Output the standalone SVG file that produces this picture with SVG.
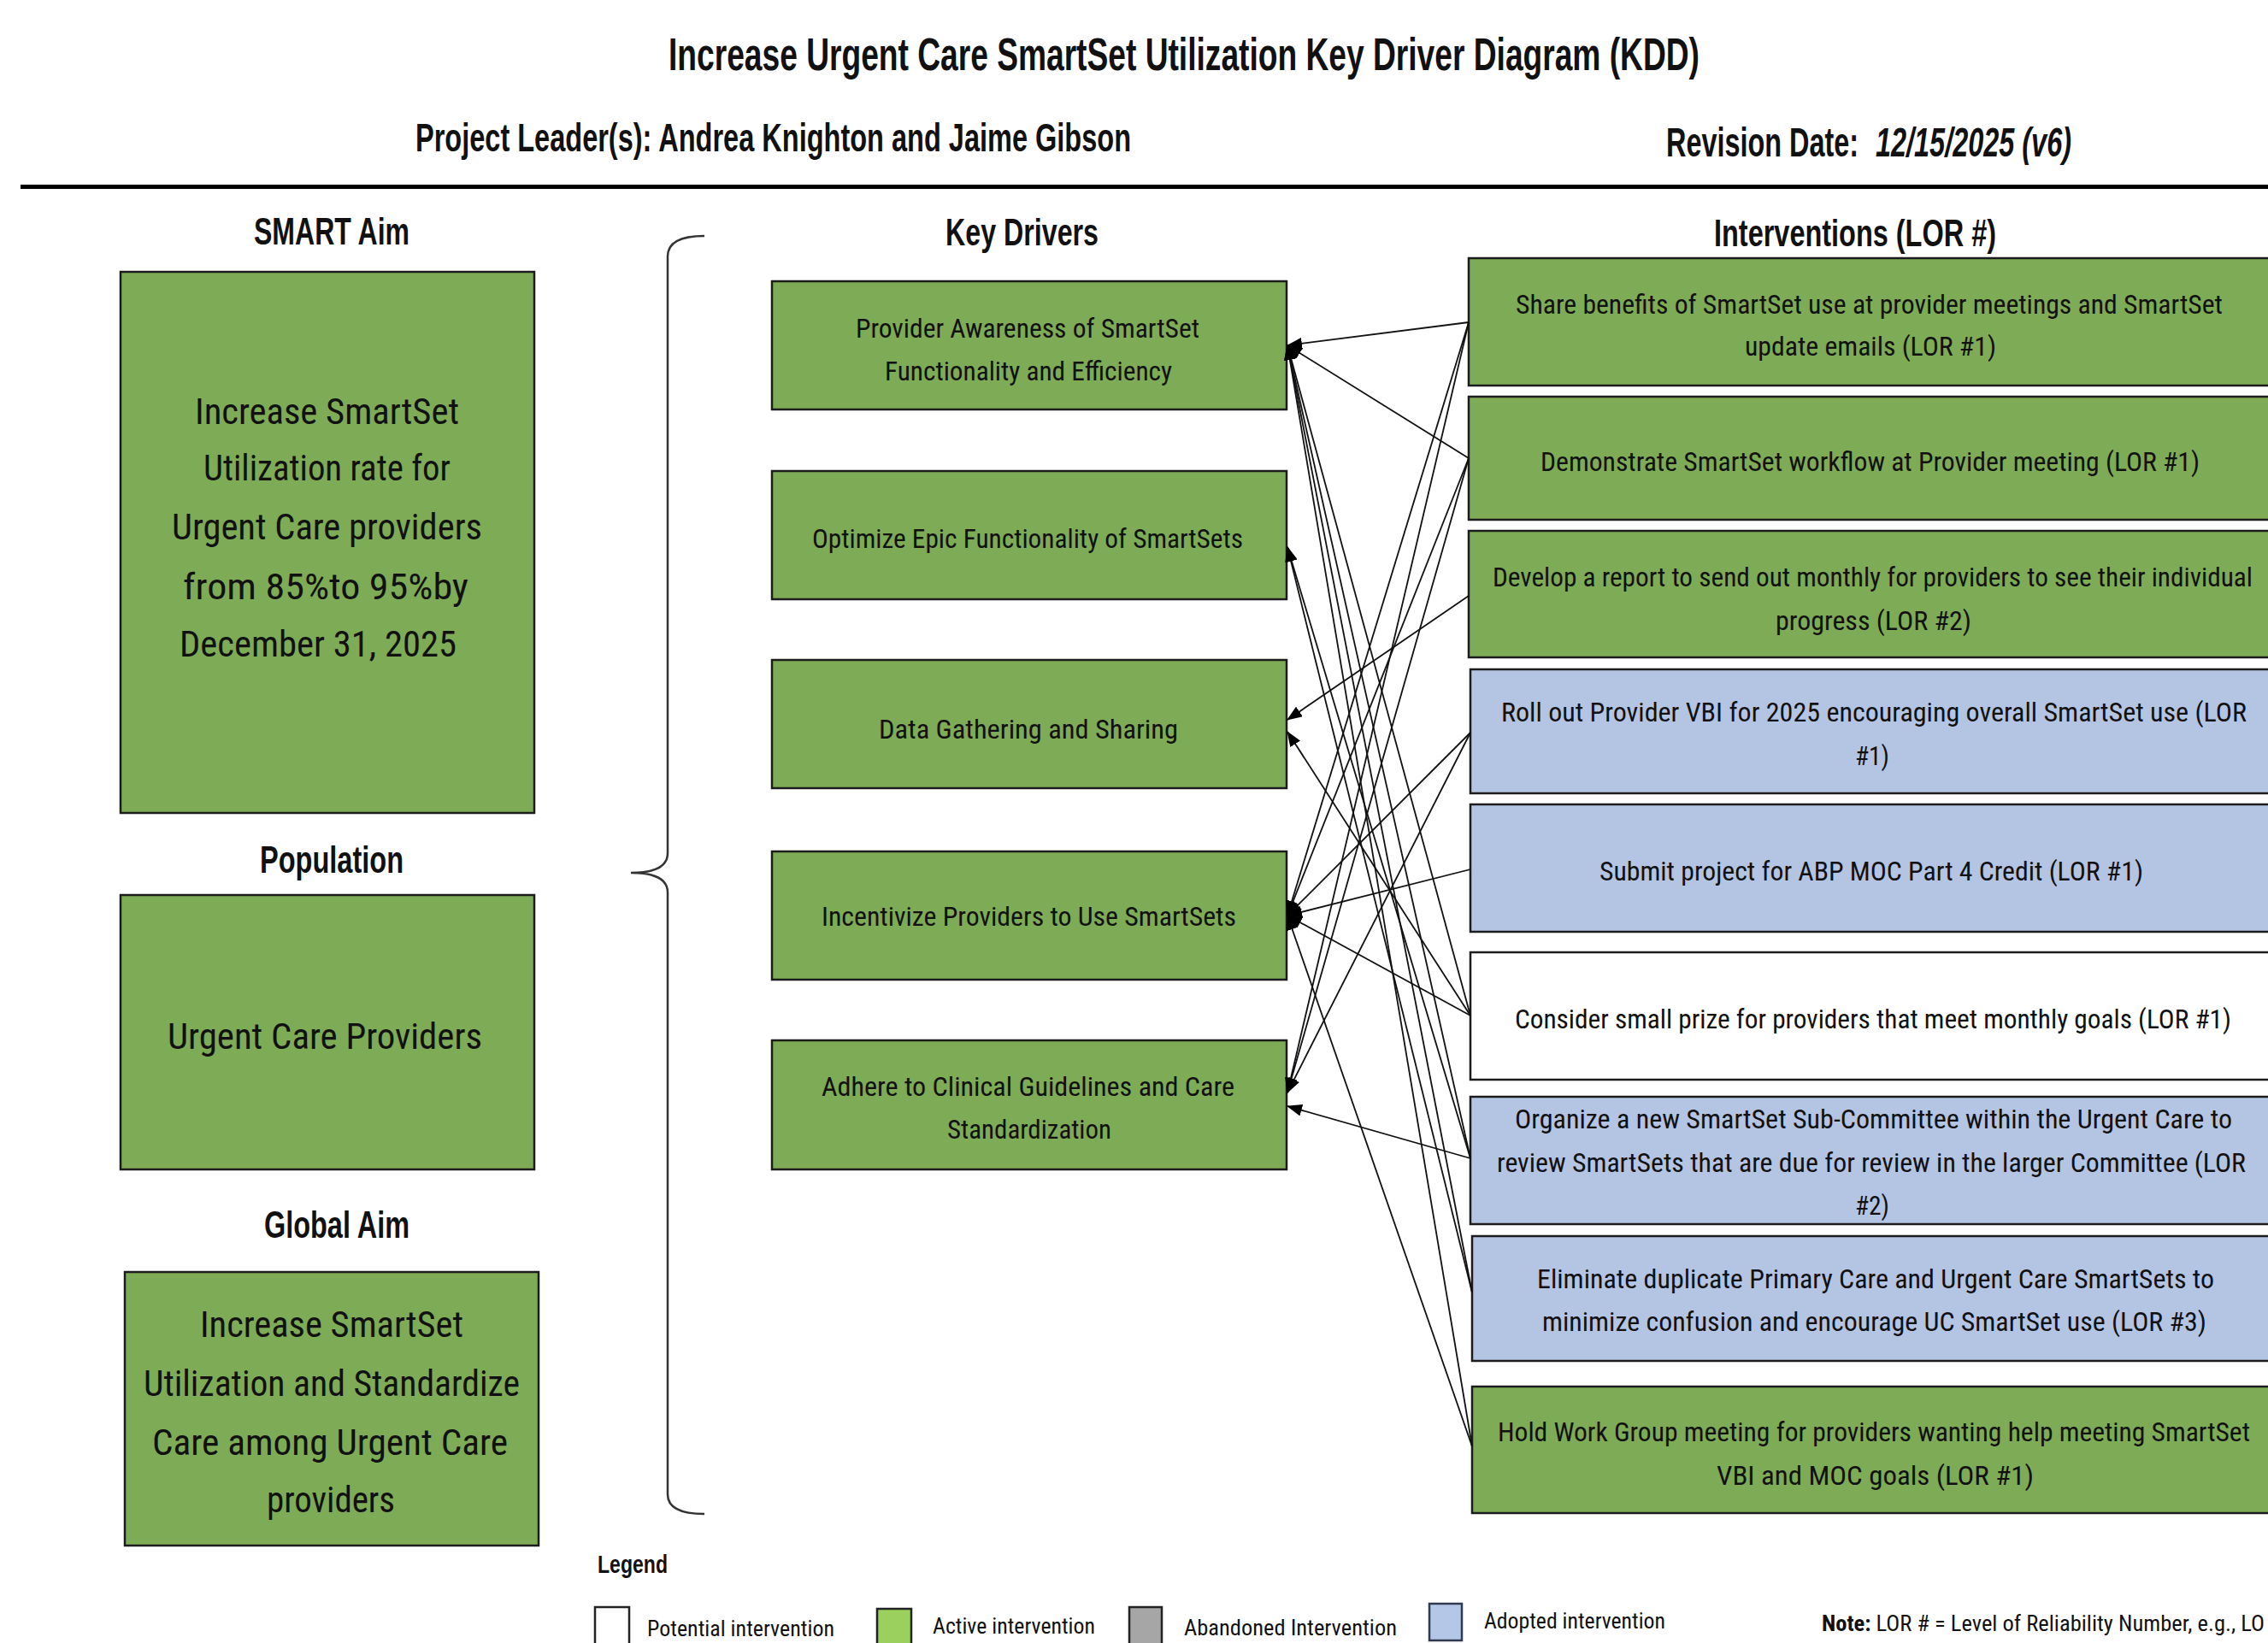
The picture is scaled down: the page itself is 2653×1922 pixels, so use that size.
<svg xmlns="http://www.w3.org/2000/svg" width="2653" height="1922" viewBox="0 0 2653 1922">
<defs>
<style>
text{font-family:"Roboto Condensed","Liberation Sans",Arial,sans-serif;fill:#111;}
.hd{font-family:"Liberation Sans",Arial,sans-serif;font-weight:bold;}
.title{font-size:54px;}
.sub{font-size:46px;}
.sec{font-size:44px;}
.aim{font-size:42px;}
.kd{font-size:32px;}
.iv{font-size:31px;}
.lg{font-size:26px;}
.green{fill:#7EAB55;stroke:#1c1c1c;stroke-width:2.5;}
.blue{fill:#B4C4E3;stroke:#1c1c1c;stroke-width:2.5;}
.white{fill:#FFFFFF;stroke:#1c1c1c;stroke-width:2.5;}
.conn line{stroke:#111;stroke-width:1.8;marker-end:url(#arr);}
</style>
<marker id="arr" markerUnits="userSpaceOnUse" markerWidth="18" markerHeight="14" refX="17" refY="7" orient="auto">
<path d="M0,0 L18,7 L0,14 z" fill="#000"/>
</marker>
</defs>
<rect x="0" y="0" width="2653" height="1922" fill="#FFFFFF"/>

<g id="header">
<text class="hd title" x="782" y="82" textLength="1206" lengthAdjust="spacingAndGlyphs">Increase Urgent Care SmartSet Utilization Key Driver Diagram (KDD)</text>
<text class="hd sub" x="486" y="177" textLength="837" lengthAdjust="spacingAndGlyphs">Project Leader(s): Andrea Knighton and Jaime Gibson</text>
<text class="hd" x="1949" y="183" font-size="34" transform="matrix(1 0 0 1.4 0 -73.2)" textLength="225" lengthAdjust="spacingAndGlyphs">Revision Date:</text>
<text class="hd" x="2194" y="183" font-size="34" font-style="italic" transform="matrix(1 0 0 1.4 0 -73.2)" textLength="229" lengthAdjust="spacingAndGlyphs">12/15/2025 (v6)</text>
<line x1="24" y1="218.5" x2="2653" y2="218.5" stroke="#000" stroke-width="5"/>
</g>

<g id="section-headers">
<text class="hd sec" x="297" y="286" textLength="182" lengthAdjust="spacingAndGlyphs">SMART Aim</text>
<text class="hd sec" x="1106" y="287" textLength="179" lengthAdjust="spacingAndGlyphs">Key Drivers</text>
<text class="hd sec" x="2005" y="288" textLength="330" lengthAdjust="spacingAndGlyphs">Interventions (LOR #)</text>
<text class="hd sec" x="304" y="1021" textLength="168" lengthAdjust="spacingAndGlyphs">Population</text>
<text class="hd sec" x="309" y="1448" textLength="170" lengthAdjust="spacingAndGlyphs">Global Aim</text>
</g>

<g id="smart-aim">
<rect class="green" x="141" y="318" width="484" height="633"/>
<text class="aim" x="228" y="496" textLength="309" lengthAdjust="spacingAndGlyphs">Increase SmartSet</text>
<text class="aim" x="238" y="562" textLength="289" lengthAdjust="spacingAndGlyphs">Utilization rate for</text>
<text class="aim" x="201" y="631" textLength="363" lengthAdjust="spacingAndGlyphs">Urgent Care providers</text>
<text class="aim" x="214" y="701" textLength="334" lengthAdjust="spacingAndGlyphs">from 85%to 95%by</text>
<text class="aim" x="210" y="768" textLength="324" lengthAdjust="spacingAndGlyphs">December 31, 2025</text>
</g>

<g id="population">
<rect class="green" x="141" y="1047" width="484" height="321"/>
<text class="aim" x="196" y="1227" textLength="368" lengthAdjust="spacingAndGlyphs">Urgent Care Providers</text>
</g>

<g id="global-aim">
<rect class="green" x="146" y="1488" width="484" height="320"/>
<text class="aim" x="234" y="1564" textLength="308" lengthAdjust="spacingAndGlyphs">Increase SmartSet</text>
<text class="aim" x="168" y="1633" textLength="440" lengthAdjust="spacingAndGlyphs">Utilization and Standardize</text>
<text class="aim" x="178" y="1702" textLength="416" lengthAdjust="spacingAndGlyphs">Care among Urgent Care</text>
<text class="aim" x="312" y="1769" textLength="150" lengthAdjust="spacingAndGlyphs">providers</text>
</g>

<g id="brace">
<path d="M824,276 Q781,276 781,300 L781,998 Q781,1021 738,1021 Q781,1021 781,1044 L781,1748 Q781,1771 824,1771" fill="none" stroke="#333" stroke-width="2.5"/>
</g>

<g id="kd1">
<rect class="green" x="903" y="329" width="602" height="150"/>
<text class="kd" x="1001" y="395" textLength="402" lengthAdjust="spacingAndGlyphs">Provider Awareness of SmartSet</text>
<text class="kd" x="1035" y="445" textLength="336" lengthAdjust="spacingAndGlyphs">Functionality and Efficiency</text>
</g>
<g id="kd2">
<rect class="green" x="903" y="551" width="602" height="150"/>
<text class="kd" x="950" y="641" textLength="504" lengthAdjust="spacingAndGlyphs">Optimize Epic Functionality of SmartSets</text>
</g>
<g id="kd3">
<rect class="green" x="903" y="772" width="602" height="150"/>
<text class="kd" x="1028" y="864" textLength="350" lengthAdjust="spacingAndGlyphs">Data Gathering and Sharing</text>
</g>
<g id="kd4">
<rect class="green" x="903" y="996" width="602" height="150"/>
<text class="kd" x="961" y="1083" textLength="485" lengthAdjust="spacingAndGlyphs">Incentivize Providers to Use SmartSets</text>
</g>
<g id="kd5">
<rect class="green" x="903" y="1217" width="602" height="151"/>
<text class="kd" x="961" y="1282" textLength="483" lengthAdjust="spacingAndGlyphs">Adhere to Clinical Guidelines and Care</text>
<text class="kd" x="1108" y="1332" textLength="192" lengthAdjust="spacingAndGlyphs">Standardization</text>
</g>

<g id="int1">
<rect class="green" x="1718" y="302" width="937" height="149"/>
<text class="iv" x="1773" y="367" textLength="827" lengthAdjust="spacingAndGlyphs">Share benefits of SmartSet use at provider meetings and SmartSet</text>
<text class="iv" x="2041" y="416" textLength="294" lengthAdjust="spacingAndGlyphs">update emails (LOR #1)</text>
</g>
<g id="int2">
<rect class="green" x="1718" y="464" width="937" height="144"/>
<text class="iv" x="1802" y="551" textLength="771" lengthAdjust="spacingAndGlyphs">Demonstrate SmartSet workflow at Provider meeting (LOR #1)</text>
</g>
<g id="int3">
<rect class="green" x="1718" y="621" width="937" height="148"/>
<text class="iv" x="1746" y="686" textLength="889" lengthAdjust="spacingAndGlyphs">Develop a report to send out monthly for providers to see their individual</text>
<text class="iv" x="2077" y="737" textLength="229" lengthAdjust="spacingAndGlyphs">progress (LOR #2)</text>
</g>
<g id="int4">
<rect class="blue" x="1720" y="783" width="935" height="145"/>
<text class="iv" x="1756" y="844" textLength="872" lengthAdjust="spacingAndGlyphs">Roll out Provider VBI for 2025 encouraging overall SmartSet use (LOR</text>
<text class="iv" x="2170" y="895" textLength="40" lengthAdjust="spacingAndGlyphs">#1)</text>
</g>
<g id="int5">
<rect class="blue" x="1720" y="941" width="935" height="149"/>
<text class="iv" x="1871" y="1030" textLength="636" lengthAdjust="spacingAndGlyphs">Submit project for ABP MOC Part 4 Credit (LOR #1)</text>
</g>
<g id="int6">
<rect class="white" x="1720" y="1114" width="935" height="149"/>
<text class="iv" x="1772" y="1203" textLength="838" lengthAdjust="spacingAndGlyphs">Consider small prize for providers that meet monthly goals (LOR #1)</text>
</g>
<g id="int7">
<rect class="blue" x="1720" y="1283" width="935" height="149"/>
<text class="iv" x="1772" y="1320" textLength="839" lengthAdjust="spacingAndGlyphs">Organize a new SmartSet Sub-Committee within the Urgent Care to</text>
<text class="iv" x="1751" y="1371" textLength="876" lengthAdjust="spacingAndGlyphs">review SmartSets that are due for review in the larger Committee (LOR</text>
<text class="iv" x="2170" y="1421" textLength="40" lengthAdjust="spacingAndGlyphs">#2)</text>
</g>
<g id="int8">
<rect class="blue" x="1722" y="1446" width="933" height="146"/>
<text class="iv" x="1798" y="1507" textLength="792" lengthAdjust="spacingAndGlyphs">Eliminate duplicate Primary Care and Urgent Care SmartSets to</text>
<text class="iv" x="1804" y="1557" textLength="777" lengthAdjust="spacingAndGlyphs">minimize confusion and encourage UC SmartSet use (LOR #3)</text>
</g>
<g id="int9">
<rect class="green" x="1722" y="1622" width="933" height="148"/>
<text class="iv" x="1752" y="1686" textLength="880" lengthAdjust="spacingAndGlyphs">Hold Work Group meeting for providers wanting help meeting SmartSet</text>
<text class="iv" x="2008" y="1737" textLength="371" lengthAdjust="spacingAndGlyphs">VBI and MOC goals (LOR #1)</text>
</g>

<g id="connectors" class="conn">
<line x1="1718" y1="377" x2="1506" y2="404"/>
<line x1="1718" y1="536" x2="1506" y2="404"/>
<line x1="1720" y1="1188" x2="1506" y2="404"/>
<line x1="1720" y1="1355" x2="1506" y2="404"/>
<line x1="1722" y1="1512" x2="1506" y2="404"/>
<line x1="1722" y1="1692" x2="1506" y2="404"/>
<line x1="1720" y1="1355" x2="1506" y2="640"/>
<line x1="1722" y1="1512" x2="1506" y2="640"/>
<line x1="1718" y1="697" x2="1506" y2="842"/>
<line x1="1720" y1="1188" x2="1506" y2="856"/>
<line x1="1718" y1="377" x2="1506" y2="1071"/>
<line x1="1718" y1="536" x2="1506" y2="1071"/>
<line x1="1720" y1="857" x2="1506" y2="1071"/>
<line x1="1720" y1="1017" x2="1506" y2="1071"/>
<line x1="1720" y1="1188" x2="1506" y2="1071"/>
<line x1="1722" y1="1692" x2="1506" y2="1071"/>
<line x1="1718" y1="377" x2="1506" y2="1278"/>
<line x1="1718" y1="536" x2="1506" y2="1278"/>
<line x1="1720" y1="857" x2="1506" y2="1278"/>
<line x1="1720" y1="1355" x2="1506" y2="1294"/>
</g>

<g id="legend">
<text class="hd" x="699" y="1840" font-size="30" textLength="82" lengthAdjust="spacingAndGlyphs">Legend</text>
<rect x="696" y="1880" width="40" height="50" fill="#FFFFFF" stroke="#222" stroke-width="2.5"/>
<text class="lg" x="757" y="1914" textLength="219" lengthAdjust="spacingAndGlyphs">Potential intervention</text>
<rect x="1026" y="1882" width="40" height="50" fill="#9BCF5E" stroke="#222" stroke-width="2.5"/>
<text class="lg" x="1091" y="1911" textLength="190" lengthAdjust="spacingAndGlyphs">Active intervention</text>
<rect x="1321" y="1880" width="38" height="50" fill="#A6A6A6" stroke="#222" stroke-width="2.5"/>
<text class="lg" x="1385" y="1913" textLength="249" lengthAdjust="spacingAndGlyphs">Abandoned Intervention</text>
<rect x="1672" y="1876" width="38" height="43" fill="#B4C7E7" stroke="#2F3A4F" stroke-width="2.5"/>
<text class="lg" x="1736" y="1905" textLength="212" lengthAdjust="spacingAndGlyphs">Adopted intervention</text>
<text x="2131" y="1908" font-size="25" textLength="518" lengthAdjust="spacingAndGlyphs"><tspan font-weight="bold">Note:</tspan> LOR # = Level of Reliability Number, e.g., LO</text>
</g>
</svg>
